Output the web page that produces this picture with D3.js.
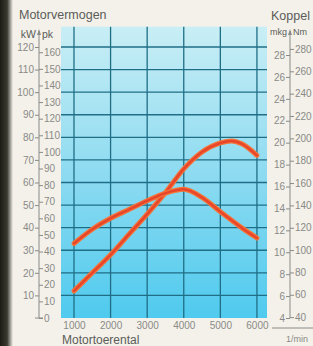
<!DOCTYPE html>
<html>
<head>
<meta charset="utf-8">
<script src="https://cdn.jsdelivr.net/npm/d3@7"></script>
<style>
  body { margin: 0; background: #f3f1ea; }
  svg { display: block; }
  .tick text { fill: #8a8a86; font-family: "Liberation Sans", Arial, sans-serif; font-size: 10px; }
  .tick line { stroke: #8a8a86; }
</style>
</head>
<body>
<div id="chart"></div>
<script>
// rpm values at which the curves were read
var rpm = [1000, 1500, 2000, 2500, 3000, 3500, 4000, 4500, 5000, 5300, 5600, 6000];
// power in kW
var power = [12, 20, 28, 37, 46, 55.5, 66, 73.5, 77.5, 78.4, 77, 72];
// torque in mkg
var torque = [10.8, 12.1, 13.1, 13.9, 14.7, 15.4, 15.75, 15.0, 13.7, 12.95, 12.2, 11.3];

var rpmTicks = [1000, 2000, 3000, 4000, 5000, 6000];
var kwTicks = [0, 10, 20, 30, 40, 50, 60, 70, 80, 90, 100, 110, 120];
var pkTicks = [0, 10, 20, 30, 40, 50, 60, 70, 80, 90, 100, 110, 120, 130, 140, 150, 160];
var mkgTicks = [4, 6, 8, 10, 12, 14, 16, 18, 20, 22, 24, 26, 28];
var nmTicks = [40, 60, 80, 100, 120, 140, 160, 180, 200, 220, 240, 260, 280];

var W = 313, H = 346;
var svg = d3.select("#chart").append("svg")
    .attr("width", W).attr("height", H);

var defs = svg.append("defs");
var bg = defs.append("linearGradient").attr("id", "plotFill")
    .attr("x1", 0).attr("y1", 0).attr("x2", 0).attr("y2", 1);
bg.append("stop").attr("offset", "0%").attr("stop-color", "#c9eef5");
bg.append("stop").attr("offset", "50%").attr("stop-color", "#8edbf1");
bg.append("stop").attr("offset", "100%").attr("stop-color", "#4fcaee");

var edge = defs.append("linearGradient").attr("id", "edgeFill")
    .attr("x1", 0).attr("y1", 0).attr("x2", 1).attr("y2", 0);
edge.append("stop").attr("offset", "0%").attr("stop-color", "#1c1c16");
edge.append("stop").attr("offset", "55%").attr("stop-color", "#3a3a30");
edge.append("stop").attr("offset", "100%").attr("stop-color", "#f3f1ea");

// dark page edge of the photo
svg.append("rect").attr("x", 0).attr("y", 0).attr("width", 13).attr("height", H)
    .attr("fill", "url(#edgeFill)");

var x = d3.scaleLinear().domain([645, 6275]).range([61, 267]);
var yKw = d3.scaleLinear().domain([0, 120]).range([318, 47]);
var yPk = d3.scaleLinear().domain([0, 120 / 0.7355]).range([318, 47]);
var yMkg = d3.scaleLinear().domain([4, 28]).range([318, 55]);
var yNm = d3.scaleLinear().domain([4 * 9.80665, 28 * 9.80665]).range([318, 55]);

var plotTop = yKw(129), plotBottom = yKw(0);

svg.append("rect")
    .attr("x", x.range()[0]).attr("y", plotTop)
    .attr("width", x.range()[1] - x.range()[0])
    .attr("height", plotBottom - plotTop)
    .attr("fill", "url(#plotFill)");

var grid = svg.append("g").attr("stroke", "#1f6e86").attr("stroke-width", 1.3);
grid.selectAll(".h").data(kwTicks.slice(1)).enter().append("line")
    .attr("x1", x.range()[0]).attr("x2", x.range()[1])
    .attr("y1", function (d) { return yKw(d); })
    .attr("y2", function (d) { return yKw(d); });
grid.selectAll(".v").data(rpmTicks).enter().append("line")
    .attr("y1", plotTop).attr("y2", plotBottom)
    .attr("x1", function (d) { return x(d); })
    .attr("x2", function (d) { return x(d); });

// curves
var powerLine = d3.line().curve(d3.curveMonotoneX)
    .x(function (d, i) { return x(rpm[i]); })
    .y(function (d) { return yKw(d); });
var torqueLine = d3.line().curve(d3.curveMonotoneX)
    .x(function (d, i) { return x(rpm[i]); })
    .y(function (d) { return yMkg(d); });

[powerLine(power), torqueLine(torque)].forEach(function (p) {
    svg.append("path").attr("d", p).attr("fill", "none")
        .attr("stroke", "#f4743a").attr("stroke-width", 5).attr("stroke-linecap", "round");
    svg.append("path").attr("d", p).attr("fill", "none")
        .attr("stroke", "#e8462a").attr("stroke-width", 2.5).attr("stroke-linecap", "round");
});

// left axis: kW / pk
var axX = 39;
svg.append("g").attr("transform", "translate(" + axX + ",0)")
    .call(d3.axisLeft(yKw).tickValues(kwTicks.slice(1)).tickSize(4).tickPadding(1))
    .call(function (g) { g.select(".domain").remove(); });
svg.append("g").attr("transform", "translate(" + axX + ",0)")
    .call(d3.axisRight(yPk).tickValues(pkTicks).tickSize(4).tickPadding(1))
    .call(function (g) { g.select(".domain").remove(); });

// right axis: mkg / Nm
var axR = 290;
svg.append("g").attr("transform", "translate(" + axR + ",0)")
    .call(d3.axisLeft(yMkg).tickValues(mkgTicks).tickSize(4).tickPadding(1))
    .call(function (g) { g.select(".domain").remove(); });
svg.append("g").attr("transform", "translate(" + axR + ",0)")
    .call(d3.axisRight(yNm).tickValues(nmTicks).tickSize(4).tickPadding(1))
    .call(function (g) { g.select(".domain").remove(); });

// axis lines with arrows
[axX, axR].forEach(function (ax) {
    svg.append("line").attr("x1", ax).attr("x2", ax).attr("y1", 31).attr("y2", plotBottom)
        .attr("stroke", "#8a8a86").attr("stroke-width", 1);
    svg.append("path")
        .attr("d", "M" + (ax - 2) + ",35L" + ax + ",29L" + (ax + 2) + ",35Z")
        .attr("fill", "#8a8a86");
});
svg.append("line").attr("x1", axX - 4).attr("x2", axX + 4)
    .attr("y1", plotBottom).attr("y2", plotBottom).attr("stroke", "#8a8a86");

// bottom axis labels
svg.append("g").attr("transform", "translate(0," + plotBottom + ")")
    .call(d3.axisBottom(x).tickValues(rpmTicks).tickSize(0).tickPadding(4)
        .tickFormat(d3.format("d")))
    .call(function (g) { g.select(".domain").remove(); });

svg.append("line").attr("x1", 272).attr("x2", W).attr("y1", 328).attr("y2", 328)
    .attr("stroke", "#8a8a86");

var txt = svg.append("g").attr("font-family", "Liberation Sans, Arial, sans-serif")
    .attr("fill", "#5c5c58");
txt.append("text").attr("x", 19).attr("y", 19).attr("font-size", 12.5).text("Motorvermogen");
txt.append("text").attr("x", 271).attr("y", 20).attr("font-size", 12.5).text("Koppel");
txt.append("text").attr("x", 62).attr("y", 344).attr("font-size", 12).text("Motortoerental");
txt.append("text").attr("x", 286).attr("y", 342).attr("font-size", 9).attr("fill", "#8a8a86").text("1/min");
txt.append("text").attr("x", 36).attr("y", 38).attr("font-size", 10.5).attr("text-anchor", "end").text("kW");
txt.append("text").attr("x", 42).attr("y", 38).attr("font-size", 10.5).text("pk");
txt.append("text").attr("x", 287).attr("y", 35).attr("font-size", 9).attr("text-anchor", "end").text("mkg");
txt.append("text").attr("x", 293).attr("y", 35).attr("font-size", 9).text("Nm");
</script>
</body>
</html>
